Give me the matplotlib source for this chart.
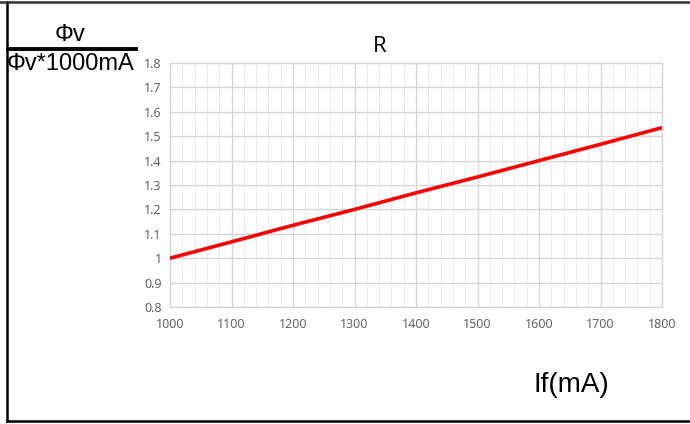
import matplotlib.pyplot as plt
from matplotlib.ticker import MultipleLocator
from matplotlib.lines import Line2D

current_ma = [1000, 1100, 1200, 1300, 1400, 1500, 1600, 1700, 1800]
ratio = [1.0, 1.067, 1.135, 1.2, 1.268, 1.333, 1.4, 1.467, 1.535]

fig = plt.figure(figsize=(6.9, 4.24), dpi=100)
ax = fig.add_axes([170 / 690, 1 - 307 / 424, 492 / 690, 244 / 424])

ax.plot(current_ma, ratio, color='#ff0000', lw=2.6, solid_capstyle='butt', zorder=3)

ax.set_xlim(1000, 1800)
ax.set_ylim(0.8, 1.8)
ax.xaxis.set_major_locator(MultipleLocator(100))
ax.xaxis.set_minor_locator(MultipleLocator(20))
ax.yaxis.set_major_locator(MultipleLocator(0.1))
ax.set_yticklabels([f'{v:g}' for v in ax.get_yticks()])
ax.grid(which='major', color='#d4d4d4', lw=0.9)
ax.grid(which='minor', axis='x', color='#ececec', lw=0.7)
for s in ax.spines.values():
    s.set_color('#d4d4d4')
    s.set_linewidth(0.9)
ax.tick_params(which='both', length=0, labelsize=9, labelcolor='#595959')
ax.tick_params(axis='x', pad=8)
ax.tick_params(axis='y', pad=6)
for lbl in ax.get_xticklabels() + ax.get_yticklabels():
    lbl.set_family('Open Sans')

fig.text(380 / 690, 1 - 46 / 424, 'R', ha='center', va='center', fontsize=16, family='Open Sans')
fig.text(70 / 690, 1 - 35 / 424, 'Φv', ha='center', va='center', fontsize=17, family='Liberation Sans')
fig.text(71 / 690, 1 - 64 / 424, 'Φv*1000mA', ha='center', va='center', fontsize=17, family='Liberation Sans')
fig.add_artist(Line2D([8 / 690, 136 / 690], [1 - 49 / 424, 1 - 49 / 424], color='black', lw=2.8))
fig.text(571 / 690, 1 - 385 / 424, 'If(mA)', ha='center', va='center', fontsize=20, family='Liberation Sans')

# outer frame
fig.add_artist(Line2D([7 / 690, 7 / 690], [1 - 421 / 424, 1 - 2 / 424], color='black', lw=1.8))
fig.add_artist(Line2D([7 / 690, 1], [1 - 421 / 424, 1 - 421 / 424], color='black', lw=1.8))
fig.add_artist(Line2D([0, 1], [1 - 2 / 424, 1 - 2 / 424], color='#333333', lw=1.8))

fig.savefig('out.png', dpi=100)
